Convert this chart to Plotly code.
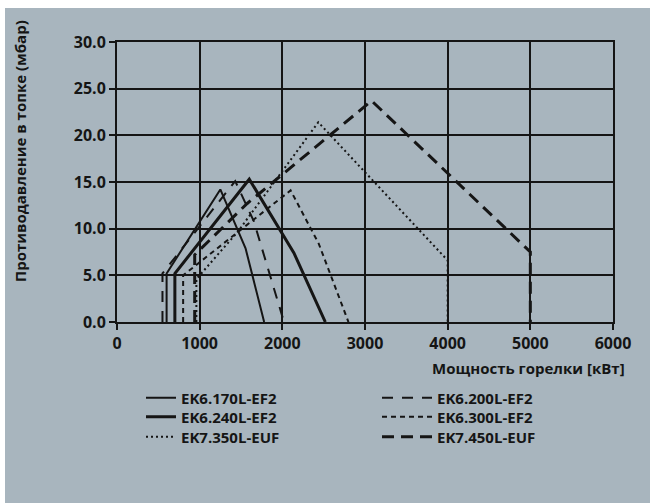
import plotly.graph_objects as go

# ---- data ----
names = ["EK6.170L-EF2", "EK6.240L-EF2", "EK7.350L-EUF",
         "EK6.200L-EF2", "EK6.300L-EF2", "EK7.450L-EUF"]

x_170 = [600, 600, 1250, 1555, 1780]
y_170 = [0.0, 5.2, 14.2, 7.9, 0.0]

x_240 = [700, 700, 1600, 2140, 2520]
y_240 = [0.0, 5.2, 15.3, 7.4, 0.0]

x_350 = [960, 960, 1455, 2435, 4000, 4000]
y_350 = [0.0, 4.6, 9.6, 21.4, 6.6, 0.0]

x_200 = [550, 550, 1430, 1655, 2020]
y_200 = [0.0, 5.2, 15.1, 10.8, 0.0]

x_300 = [800, 800, 2100, 2440, 2800]
y_300 = [0.0, 5.0, 14.1, 8.4, 0.0]

x_450 = [940, 940, 1575, 3080, 5000, 5000]
y_450 = [0.0, 7.2, 12.7, 23.7, 7.5, 0.0]

x_ticks = [0, 1000, 2000, 3000, 4000, 5000, 6000]
y_ticks = [0, 5, 10, 15, 20, 25, 30]
y_tick_text = ["0.0", "5.0", "10.0", "15.0", "20.0", "25.0", "30.0"]

BG = "#a8b5be"
INK = "#151515"
FONT = "Open Sans"

series = [
    (x_170, y_170, dict(width=2, dash="solid")),
    (x_240, y_240, dict(width=3, dash="solid")),
    (x_350, y_350, dict(width=2, dash="2px,3px")),
    (x_200, y_200, dict(width=2, dash="11px,9px")),
    (x_300, y_300, dict(width=2, dash="5px,4px")),
    (x_450, y_450, dict(width=3, dash="12px,7px")),
]

L, R, T, B = 117, 37, 42, 181
W, H = 650, 503
pw = W - L - R
ph = H - T - B

def px2paper_x(px):
    return (px - L) / pw

def py2paper_y(py):
    return (H - B - py) / ph

legend_font = dict(family=FONT, size=15, color=INK, weight="bold")
tick_font = dict(family=FONT, size=16, color=INK, weight="bold")
title_font = dict(family=FONT, size=15, color=INK, weight="bold")

# legend slot positions: (left px, row-centre px, symbol width)
legend_slots = [(141, 398, 30), (141, 417, 30), (141, 437, 30),
                (377, 398, 50), (377, 417, 50), (377, 437, 50)]

fig = go.Figure()
legend_layout = {}
for i, (name, (xs, ys, ln), (lx, ly, iw)) in enumerate(zip(names, series, legend_slots)):
    key = "legend" if i == 0 else f"legend{i + 1}"
    fig.add_trace(go.Scatter(x=xs, y=ys, mode="lines", name=name, legend=key,
                             line=dict(color=INK, **ln)))
    legend_layout[key] = dict(orientation="v", x=px2paper_x(lx), y=py2paper_y(ly),
                              xanchor="left", yanchor="middle", font=legend_font,
                              bgcolor="rgba(0,0,0,0)", itemwidth=iw)

fig.update_layout(
    width=W, height=H,
    margin=dict(l=L, r=R, t=T, b=B, pad=0, autoexpand=False),
    paper_bgcolor=BG, plot_bgcolor=BG,
    font=dict(family=FONT, color=INK, size=14),
    showlegend=True,
    xaxis=dict(range=[0, 6000], tickvals=x_ticks,
               showgrid=True, gridcolor=INK, gridwidth=2,
               showline=True, linecolor=INK, linewidth=2, mirror=True,
               ticks="outside", ticklen=6, tickwidth=2, tickcolor=INK,
               zeroline=False, fixedrange=True, tickfont=tick_font),
    yaxis=dict(range=[0, 30], tickvals=y_ticks, ticktext=y_tick_text,
               showgrid=True, gridcolor=INK, gridwidth=2,
               showline=True, linecolor=INK, linewidth=2, mirror=True,
               ticks="outside", ticklen=6, tickwidth=2, tickcolor=INK,
               zeroline=False, fixedrange=True, tickfont=tick_font),
    annotations=[
        dict(text="Мощность горелки [кВт]", xref="paper", yref="paper",
             x=px2paper_x(627), y=py2paper_y(368), xanchor="right", yanchor="middle",
             showarrow=False, font=title_font),
        dict(text="Противодавление в топке (мбар)", xref="paper", yref="paper",
             x=px2paper_x(20), y=py2paper_y(151), xanchor="center", yanchor="middle",
             textangle=-90, showarrow=False, font=title_font),
    ],
    shapes=[
        dict(type="rect", xref="paper", yref="paper", layer="below",
             x0=px2paper_x(0), x1=px2paper_x(W), y0=py2paper_y(0), y1=py2paper_y(8),
             fillcolor="white", line=dict(width=0)),
        dict(type="rect", xref="paper", yref="paper", layer="below",
             x0=px2paper_x(0), x1=px2paper_x(5), y0=py2paper_y(0), y1=py2paper_y(H),
             fillcolor="white", line=dict(width=0)),
    ],
    **legend_layout,
)

fig.write_html("out.html")
